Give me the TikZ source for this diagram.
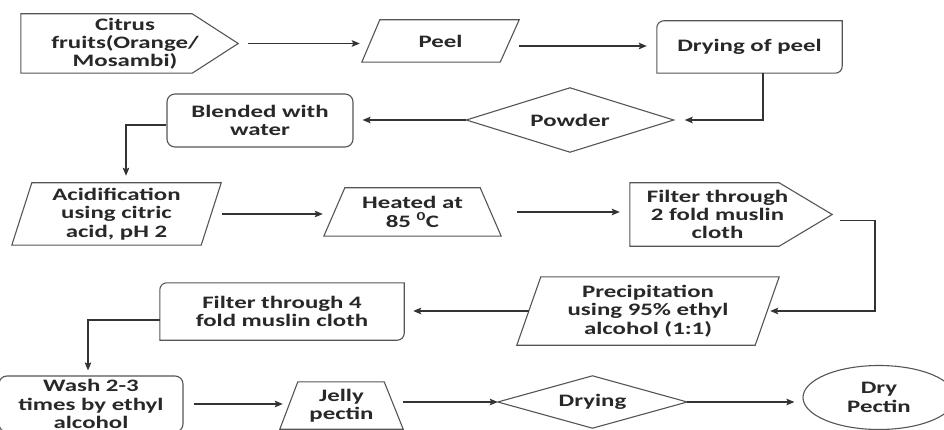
\documentclass[tikz,border=0pt]{standalone}
\usepackage{fontspec}
\newfontfamily\flowfont{Carlito}[FakeStretch=1.42]
\usetikzlibrary{calc,arrows.meta,shapes.geometric}
\definecolor{linec}{HTML}{555555}
\definecolor{arrc}{HTML}{333333}
\definecolor{txtc}{HTML}{282828}
\tikzset{
  box/.style={draw=none, rectangle, inner sep=0pt, align=center, text=txtc,
    font=\flowfont\bfseries\fontsize{17.5}{18.3}\selectfont},
  outl/.style={draw=linec, line width=1.1pt, line join=miter},
  arr/.style={draw=arrc, line width=1.5pt, -{Stealth[length=8pt,width=6.5pt,inset=1.5pt]}},
}
\begin{document}
\begin{tikzpicture}[x=1pt,y=1pt]
\useasboundingbox (0,-430) rectangle (944,0);
\fill[white] (0,-430) rectangle (944,0);
\clip (0,-430) rectangle (944,0);

% ---- nodes ----
\node[box, minimum width=226pt, minimum height=59pt] (citrus) at (125,-43.5) {Citrus\\fruits(Orange/\\Mosambi)};
\node[box, minimum width=157pt, minimum height=42pt] (peel) at (440.5,-41) {Peel};
\node[box, minimum width=185pt, minimum height=52pt] (dryp) at (749.5,-47) {Drying of peel};
\node[box, minimum width=207pt, minimum height=64pt] (powder) at (570,-120) {Powder};
\node[box, draw=linec, line width=1.1pt, rounded corners=8pt, minimum width=186pt, minimum height=53pt] (blend) at (260,-120.5) {Blended with\\water};
\node[box, minimum width=209pt, minimum height=62pt] (acid) at (116.5,-214) {Acidification\\using citric\\acid, pH 2};
\node[box, minimum width=177pt, minimum height=48pt] (heat) at (412.5,-212) {Heated at\\85 \textsuperscript{0}C};
\node[box, minimum width=229pt, minimum height=63pt] (filt2) at (717.5,-214.5) {Filter through\\2 fold muslin\\cloth};
\node[box, minimum width=262pt, minimum height=68pt] (precip) at (648,-311) {Precipitation\\using 95\% ethyl\\alcohol (1:1)};
\node[box, minimum width=244pt, minimum height=57pt] (filt4) at (282,-311.5) {Filter through 4\\fold muslin cloth};
\node[box, draw=linec, line width=1.1pt, rounded corners=8pt, minimum width=184pt, minimum height=56pt] (wash) at (91,-404) {Wash 2-3\\times by ethyl\\alcohol};
\node[box, minimum width=123pt, minimum height=47pt] (jelly) at (341.5,-405.5) {Jelly\\pectin};
\node[box, minimum width=189pt, minimum height=52pt] (drying) at (592.5,-402) {Drying};
\node[box, ellipse, draw=linec, line width=1.1pt, minimum width=152pt, minimum height=64pt] (drypec) at (879,-397.5) {Dry\\Pectin};

% ---- outlines ----
\draw[outl] ([xshift=9pt]citrus.north west) -- ([xshift=-46pt]citrus.north east) -- (citrus.east)
  -- ([xshift=-46pt]citrus.south east) -- ([xshift=9pt]citrus.south west) -- cycle;
\draw[outl] ([xshift=18pt]peel.north west) -- (peel.north east) -- ([xshift=-19pt]peel.south east) -- (peel.south west) -- cycle;
\draw[outl] ([yshift=-7pt]dryp.north west) arc[start angle=180,end angle=90,radius=7pt] -- (dryp.north east)
  -- ([yshift=7pt]dryp.south east) arc[start angle=0,end angle=-90,radius=7pt] -- (dryp.south west) -- cycle;
\draw[outl] (powder.north) -- (powder.east) -- (powder.south) -- (powder.west) -- cycle;
\draw[outl] ([xshift=20pt]acid.north west) -- (acid.north east) -- ([xshift=-20pt]acid.south east) -- (acid.south west) -- cycle;
\draw[outl] ([xshift=21pt]heat.north west) -- ([xshift=-21pt]heat.north east) -- (heat.south east) -- (heat.south west) -- cycle;
\draw[outl] ([xshift=27pt]filt2.north west) -- ([xshift=-53pt]filt2.north east) -- (filt2.east)
  -- ([xshift=-53pt]filt2.south east) -- ([xshift=27pt]filt2.south west) -- cycle;
\draw[outl] ([xshift=24pt]precip.north west) -- (precip.north east) -- ([xshift=-24pt]precip.south east) -- (precip.south west) -- cycle;
\draw[outl] ([yshift=-7pt]filt4.north west) arc[start angle=180,end angle=90,radius=7pt] -- (filt4.north east)
  -- ([yshift=7pt]filt4.south east) arc[start angle=0,end angle=-90,radius=7pt] -- (filt4.south west) -- cycle;
\draw[outl] ([xshift=18pt]jelly.north west) -- ([xshift=-19pt]jelly.north east) -- (jelly.south east) -- (jelly.south west) -- cycle;
\draw[outl] (drying.north) -- (drying.east) -- (drying.south) -- (drying.west) -- cycle;

% ---- connectors ----
\draw[arr, shorten <=10pt, shorten >=2pt] (citrus.east) -- (citrus.east -| peel.west);
\draw[arr, shorten >=10pt] ([yshift=-5pt]peel.east) -- ([yshift=-5pt]peel.east -| dryp.west);
\draw[arr, shorten >=11pt] ([xshift=13.5pt]dryp.south) |- (powder.east);
\draw[arr, shorten >=9pt] (powder.west) -- (powder.west -| blend.east);
\draw[arr, shorten >=7pt] ([yshift=-4.5pt]blend.west) -| ([xshift=9.5pt]acid.north);
\draw[arr, shorten <=1pt, shorten >=1pt] (acid.east) -- (acid.east -| heat.west);
\draw[arr, shorten <=16pt, shorten >=10pt] (heat.east) -- ($(heat.east -| filt2.west)+(27,0)$);
\draw[arr] ([xshift=8pt,yshift=-6pt]filt2.east) -| ($(filt2.east |- precip.east)+(43,0)$) -- ([xshift=-9pt]precip.east);
\draw[arr, shorten >=9pt] ([xshift=12pt]precip.west) -- (precip.west -| filt4.east);
\draw[arr, shorten >=5pt] ([yshift=-8.5pt]filt4.west) -| ([xshift=-3pt]wash.north);
\draw[arr, shorten <=10pt] (wash.east) -- ($(wash.east -| jelly.west)+(3,0)$);
\draw[arr] (drying.west -| jelly.east) -- (drying.west);
\draw[arr, shorten >=8pt] (drying.east) -- (drying.east -| drypec.west);
\end{tikzpicture}
\end{document}
